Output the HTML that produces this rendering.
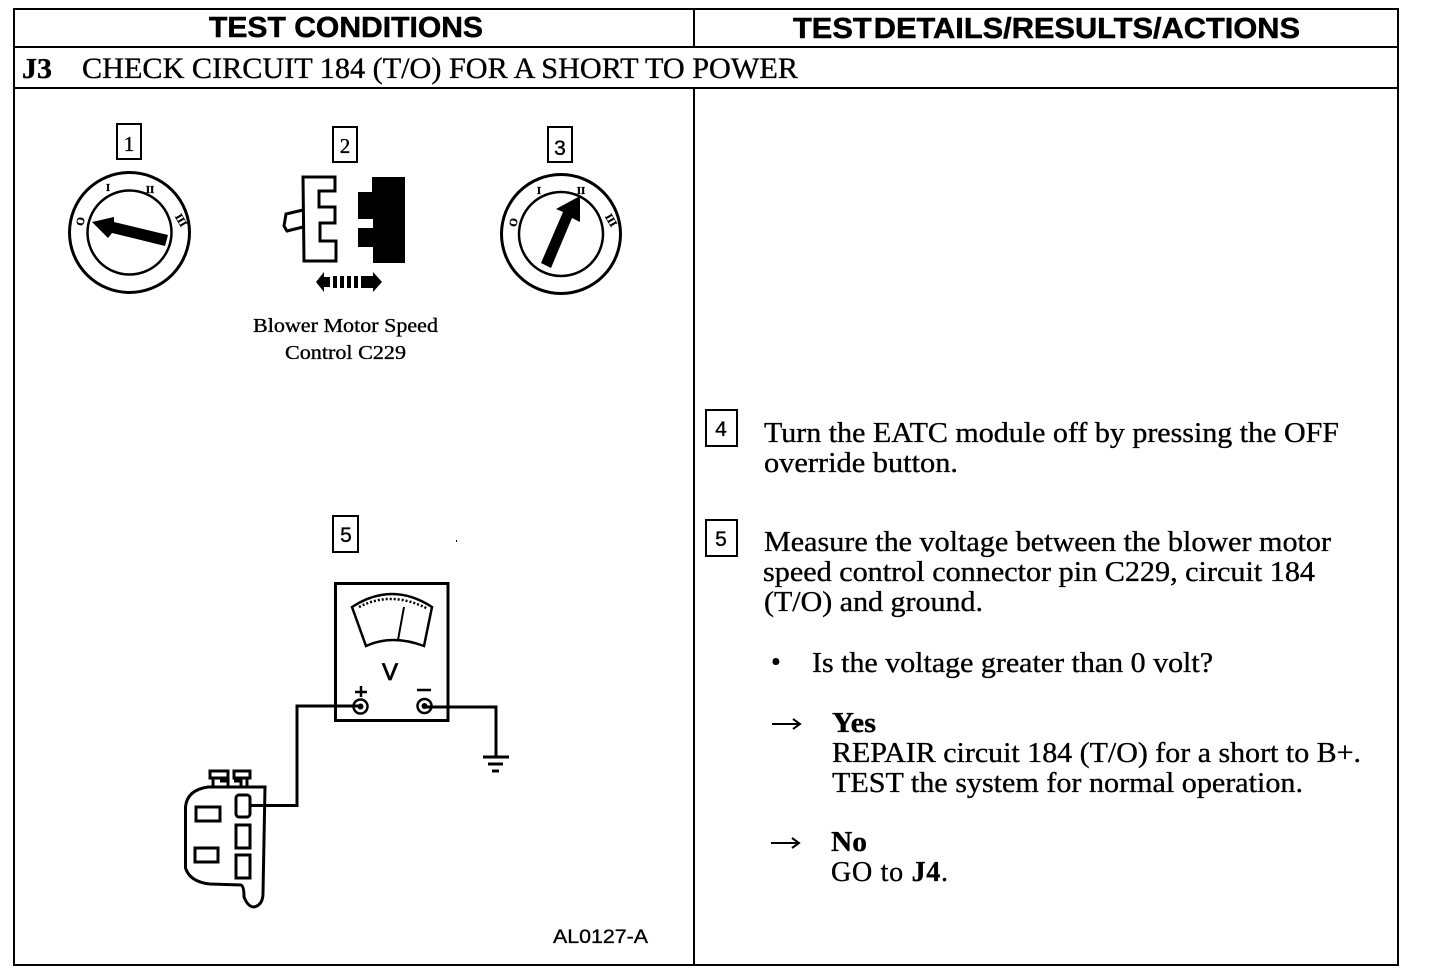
<!DOCTYPE html>
<html><head><meta charset="utf-8"><style>
html,body{margin:0;padding:0;background:#fff;width:1440px;height:974px;overflow:hidden}
svg{display:block}
text{font-family:"Liberation Serif",serif;fill:#000;stroke:#000;stroke-width:.35px}
.h{font-family:"Liberation Sans",sans-serif;font-weight:700;font-size:29px;stroke-width:.5px}
.b{font-size:28px}
.s{font-size:20px}
.n{font-size:21px}
.l{stroke:#000;fill:none}
</style></head><body>
<svg width="1440" height="974" viewBox="0 0 1440 974" xmlns="http://www.w3.org/2000/svg">
<!-- table -->
<g class="l" stroke-width="2">
<path d="M14 9H1398V965H14Z" style="fill:none"/>
<path d="M14 47H1398M14 88H1398M694 9V47M694 88V965"/>
</g>
<text class="h" x="209" y="37" textLength="274" lengthAdjust="spacingAndGlyphs">TEST CONDITIONS</text>
<text class="h" x="793" y="38" textLength="507" lengthAdjust="spacingAndGlyphs" word-spacing="-6">TEST DETAILS/RESULTS/ACTIONS</text>
<text x="22" y="78" font-size="29" font-weight="700" textLength="30" lengthAdjust="spacingAndGlyphs">J3</text>
<text x="82" y="78" font-size="30" textLength="716" lengthAdjust="spacingAndGlyphs">CHECK CIRCUIT 184 (T/O) FOR A SHORT TO POWER</text>

<!-- number boxes -->
<g class="l" stroke-width="2">
<rect x="117" y="124" width="24" height="35"/>
<rect x="333" y="127" width="24" height="35"/>
<rect x="548" y="127" width="24" height="35"/>
<rect x="333" y="516" width="25" height="36"/>
<rect x="706" y="410" width="31" height="36"/>
<rect x="706" y="520" width="31" height="36"/>
</g>
<text class="n" x="129" y="151" text-anchor="middle">1</text>
<text class="n" x="345" y="153" text-anchor="middle">2</text>
<text class="n" x="560" y="155" text-anchor="middle" style="font-family:'Liberation Sans',sans-serif" font-size="20">3</text>
<text class="n" x="346" y="542" text-anchor="middle" style="font-family:'Liberation Sans',sans-serif" font-size="20">5</text>
<text class="n" x="721" y="436" text-anchor="middle" style="font-family:'Liberation Sans',sans-serif" font-size="18">4</text>
<text class="n" x="721" y="546" text-anchor="middle" style="font-family:'Liberation Sans',sans-serif" font-size="18">5</text>

<!-- dial 1 -->
<g>
<circle class="l" cx="129.500" cy="232.500" r="60" stroke-width="3"/>
<circle class="l" cx="129.500" cy="232.500" r="42" stroke-width="2.500"/>
<path d="M92 222L114 217L114 222L168 235L165 246L112 233L108 238Z" fill="#000"/>
<g font-size="11" font-weight="700" style="font-family:'Liberation Sans',sans-serif">
<text x="84" y="222" transform="rotate(-80 84 222)" text-anchor="middle">O</text>
<text x="108" y="191" text-anchor="middle">I</text>
<text x="150" y="193" text-anchor="middle">II</text>
<text x="178" y="222" transform="rotate(60 178 222)" text-anchor="middle">III</text>
</g>
</g>
<!-- dial 3 -->
<g>
<circle class="l" cx="561" cy="234" r="59.500" stroke-width="3"/>
<circle class="l" cx="561" cy="234" r="42" stroke-width="2.500"/>
<path d="M580 196L580 222L572 218L551 268L541 263L563 212L556 209Z" fill="#000"/>
<g font-size="11" font-weight="700" style="font-family:'Liberation Sans',sans-serif">
<text x="517" y="223" transform="rotate(-80 517 223)" text-anchor="middle">O</text>
<text x="539" y="194" text-anchor="middle">I</text>
<text x="581" y="194" text-anchor="middle">II</text>
<text x="608" y="222" transform="rotate(60 608 222)" text-anchor="middle">III</text>
</g>
</g>

<!-- connector pair 2 -->
<path class="l" stroke-width="3" d="M303 177H335V191H319V207H335V223H320V241H336V261H304ZM303 210L286 214L284 226L287 231L303 227" style="fill:#fff"/>
<path fill="#000" d="M372 177H405V263H373V247H358V228H373V219H358V192H372Z"/>
<path fill="#000" d="M316 282L324 272V292ZM382 282L373 272V292Z"/>
<path fill="#000" d="M324 277H330V287H324ZM333 276H337V288H333ZM340 276H344V288H340ZM347 276H351V288H347ZM354 276H358V288H354ZM361 276H373V288H361Z"/>
<text class="s" x="253" y="332" textLength="185" lengthAdjust="spacingAndGlyphs">Blower Motor Speed</text>
<text class="s" x="285" y="359" textLength="121" lengthAdjust="spacingAndGlyphs">Control C229</text>

<!-- meter -->
<rect class="l" x="335.500" y="583.500" width="112.500" height="137" stroke-width="3"/>
<path class="l" stroke-width="2.500" d="M352 607Q392 581 432 607L424 646Q392 634 366 646Z"/>
<path class="l" stroke-width="2" d="M404 607L398 640"/>
<path class="l" stroke-width="2.500" stroke-dasharray="2 2" d="M359 607Q392 590 428 609"/>
<text x="390" y="680" text-anchor="middle" font-size="24" style="font-family:'Liberation Sans',sans-serif;stroke-width:.8px">V</text>
<path class="l" stroke-width="2.500" d="M355 692H367M361 686V697M417 690H431"/>
<circle class="l" cx="360.500" cy="706.500" r="7" stroke-width="2.500"/>
<circle cx="360.500" cy="706.500" r="3" fill="#000"/>
<circle class="l" cx="424.500" cy="706" r="7" stroke-width="2.500"/>
<circle cx="424.500" cy="706" r="3" fill="#000"/>
<path class="l" stroke-width="3" d="M358 706H297V805.500H250"/>
<path class="l" stroke-width="3" d="M424 707H496V757"/>
<path class="l" stroke-width="3" d="M483 757H509M488 764H503M492 771H499"/>

<!-- connector body -->
<path class="l" stroke-width="3" d="M265 787H208Q187 790 185.500 807V868Q190 882 210 884L241 885Q244 886 244 897Q248 907 254 907Q263 905 263 893L265 787Z"/>
<path class="l" stroke-width="3" d="M210 771H228V778H210ZM234 771H250V778H234ZM213 778V787M220 781H228V787M234 781H241V787M247 778V787"/>
<rect class="l" x="196" y="807" width="24" height="14" stroke-width="3"/>
<rect class="l" x="195" y="848" width="23" height="14" stroke-width="3"/>
<rect class="l" x="236" y="795" width="14" height="22" rx="3" stroke-width="3"/>
<rect class="l" x="236" y="825" width="14" height="23" stroke-width="3"/>
<rect class="l" x="236" y="855" width="14" height="23" stroke-width="3"/>
<text x="553" y="943" font-size="19" textLength="95" lengthAdjust="spacingAndGlyphs" style="font-family:'Liberation Sans',sans-serif">AL0127-A</text>
<rect x="456" y="540" width="1" height="2" fill="#000"/>

<!-- right text -->
<text class="b" x="764" y="442" textLength="575" lengthAdjust="spacingAndGlyphs">Turn the EATC module off by pressing the OFF</text>
<text class="b" x="764" y="472" textLength="194" lengthAdjust="spacingAndGlyphs">override button.</text>
<text class="b" x="764" y="551" textLength="567" lengthAdjust="spacingAndGlyphs">Measure the voltage between the blower motor</text>
<text class="b" x="763" y="581" textLength="552" lengthAdjust="spacingAndGlyphs">speed control connector pin C229, circuit 184</text>
<text class="b" x="764" y="611" textLength="219" lengthAdjust="spacingAndGlyphs">(T/O) and ground.</text>
<text class="b" x="771" y="671">•</text>
<text class="b" x="812" y="672" textLength="401" lengthAdjust="spacingAndGlyphs">Is the voltage greater than 0 volt?</text>
<path class="l" stroke-width="2" d="M772 724H800M793 719L800 724L793 729"/>
<text class="b" x="832" y="732" font-weight="700" textLength="44" lengthAdjust="spacingAndGlyphs">Yes</text>
<text class="b" x="832" y="762" textLength="529" lengthAdjust="spacingAndGlyphs">REPAIR circuit 184 (T/O) for a short to B+.</text>
<text class="b" x="832" y="792" textLength="471" lengthAdjust="spacingAndGlyphs">TEST the system for normal operation.</text>
<path class="l" stroke-width="2" d="M771 843H799M792 838L799 843L792 848"/>
<text class="b" x="831" y="851" font-weight="700" textLength="36" lengthAdjust="spacingAndGlyphs">No</text>
<text class="b" x="831" y="881" textLength="117"><tspan>GO to </tspan><tspan font-weight="700">J4</tspan><tspan>.</tspan></text>
</svg>
</body></html>
